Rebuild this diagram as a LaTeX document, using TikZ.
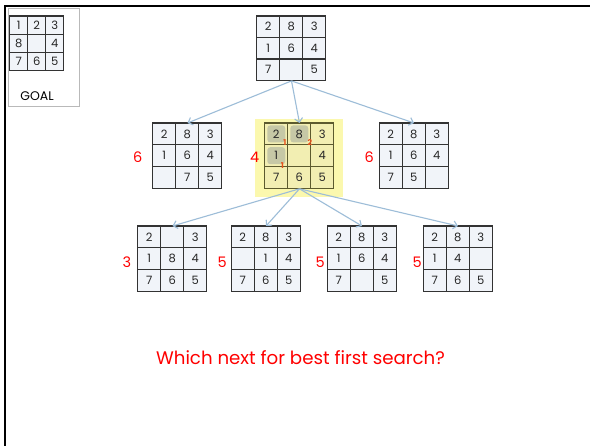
\documentclass[tikz,border=0pt]{standalone}
\usepackage{fontspec}
\setmainfont{Poppins}
\usetikzlibrary{calc,arrows.meta}
\definecolor{cellfill}{HTML}{F1F4F9}
\definecolor{celldraw}{HTML}{333333}
\definecolor{arr}{HTML}{9DBDD8}
\definecolor{hl}{HTML}{FBF8AE}
\definecolor{ycell}{HTML}{F2EEB2}
\definecolor{ydraw}{HTML}{5C5A2E}
\definecolor{tilebg}{HTML}{C6C8A6}
\definecolor{smallred}{HTML}{E8521C}
\tikzset{
  cell/.style={draw=celldraw, fill=cellfill, line width=1.1pt, inner sep=0pt,
    font=\fontsize{11.5}{13}\selectfont, text=black!85},
  ycellst/.style={cell, draw=ydraw, fill=ycell},
  tile/.style={path picture={\fill[tilebg, rounded corners=3pt]
    ($(path picture bounding box.center)+(-9,-8.5)$) rectangle +(18,17);}},
  gridbox/.style={draw=none, inner sep=0pt},
  hval/.style={text=red, font=\fontsize{14.5}{16}\selectfont},
  small/.style={text=smallred, font=\bfseries\fontsize{8}{9}\selectfont, inner sep=0pt},
  link/.style={draw=arr, line width=1.1pt, -{Straight Barb[length=4pt,width=8pt]}},
}
% #1 name, #2 x centre, #3 y top, #4 cell style, #5 cell w, #6 cell h, #7 entries
\newcommand\puz[7]{%
  \node[gridbox, minimum width=3*#5, minimum height=3*#6, anchor=north] (#1) at (#2,#3) {};
  \foreach \v [count=\i from 0] in {#7}{%
    \pgfmathtruncatemacro\cc{mod(\i,3)}%
    \pgfmathtruncatemacro\rr{div(\i,3)}%
    \node[#4, minimum width=#5, minimum height=#6, c\i/.try] (#1-\i)
      at ($(#1.north west)+(\cc*#5+#5/2,\rr*#6+#6/2)$) {\v};
  }%
}
\begin{document}
\begin{tikzpicture}[x=1pt,y=-1pt]
\useasboundingbox (0,0) rectangle (590,446);
\fill[white] (0,0) rectangle (590,446);
% frame
\draw[line width=2.4pt] (5,446) -- (5,6) -- (590,6);
% goal
\node[draw=gray!55, line width=0.8pt, minimum width=71, minimum height=98, anchor=north west, inner sep=0pt] (goalbox) at (8,8.5) {};
\puz{g}{37}{16}{cell}{18}{18.2}{1,2,3,8,{},4,7,6,5}
\node[font=\fontsize{12.5}{14}\selectfont] (goaltxt) at (37,96.5) {GOAL};
% level 1
\puz{t}{291.5}{16}{cell}{23}{21.5}{2,8,3,1,6,4,7,{},5}
% level 2
\node[fill=hl, minimum width=88, minimum height=78, anchor=north west, inner sep=0pt] (hlbox) at (255,119) {};
\puz{l}{187.5}{123}{cell}{23}{21.8}{2,8,3,1,6,4,{},7,5}
\begin{scope}[c0/.style={tile}, c1/.style={tile}, c3/.style={tile}]
\puz{m}{299.5}{123}{ycellst}{23}{21.8}{2,8,3,1,{},4,7,6,5}
\end{scope}
\puz{r}{414}{123}{cell}{23}{21.8}{2,8,3,1,6,4,7,5,{}}
\node[small] (s1) at ($(m-0.south east)+(-3.5,-2.5)$) {1};
\node[small] (s2) at ($(m-1.south east)+(-1.5,-2.5)$) {2};
\node[small] (s3) at ($(m-3.south east)+(-6,-1.5)$) {1};
\node[hval] (hl) at ($(l.west)+(-15,1.5)$) {6};
\node[hval] (hm) at ($(m.west)+(-10,1.5)$) {4};
\node[hval] (hr) at ($(r.west)+(-10,1.5)$) {6};
% level 3
\puz{a}{172.5}{226}{cell}{23}{21.8}{2,{},3,1,8,4,7,6,5}
\puz{b}{266}{226}{cell}{23}{21.8}{2,8,3,{},1,4,7,6,5}
\puz{c}{362}{226}{cell}{23}{21.8}{2,8,3,1,6,4,7,{},5}
\puz{d}{458}{226}{cell}{23}{21.8}{2,8,3,1,4,{},7,6,5}
\node[hval] (ha) at ($(a.west)+(-11,3)$) {3};
\node[hval] (hb) at ($(b.west)+(-9,3)$) {5};
\node[hval] (hc) at ($(c.west)+(-7,3)$) {5};
\node[hval] (hd) at ($(d.west)+(-6,3)$) {5};
% connectors
\draw[link] (t.south) -- (l.north);
\draw[link] (t.south) -- (m.north);
\draw[link] (t.south) -- (r.north);
\draw[link] (m.south) -- (a.north);
\draw[link] (m.south) -- (b.north);
\draw[link] (m.south) -- (c.north);
\draw[link] (m.south) -- (d.north);
% question
\node[text=red, font=\fontsize{18.2}{21}\selectfont] (q) at (300.5,358) {Which next for best first search?};
\end{tikzpicture}
\end{document}
